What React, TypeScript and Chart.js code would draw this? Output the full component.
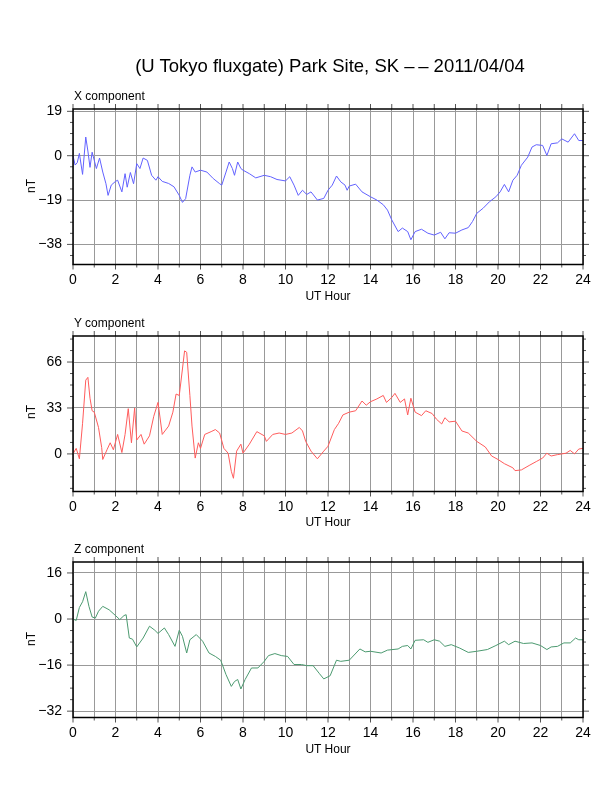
import React, { useEffect, useRef } from 'react';
import { Chart, registerables } from 'chart.js';

Chart.register(...registerables);

// X component (nT) vs UT hour
const xHours = [0, 0.1, 0.2, 0.3, 0.45, 0.6, 0.7, 0.8, 0.9, 1.0, 1.1, 1.25, 1.4, 1.55, 1.65, 1.8, 2.0, 2.1, 2.3, 2.45, 2.55, 2.7, 2.85, 3.0, 3.15, 3.3, 3.5, 3.7, 3.9, 4.0, 4.2, 4.5, 4.75, 5.0, 5.15, 5.3, 5.5, 5.6, 5.75, 6.0, 6.3, 6.6, 6.9, 7.0, 7.2, 7.35, 7.5, 7.6, 7.75, 7.9, 8.0, 8.3, 8.6, 9.0, 9.3, 9.6, 10.0, 10.2, 10.4, 10.6, 10.8, 11.0, 11.2, 11.5, 11.8, 12.0, 12.2, 12.4, 12.6, 12.8, 12.9, 13.0, 13.3, 13.6, 14.0, 14.3, 14.6, 14.8, 15.0, 15.3, 15.5, 15.75, 15.9, 16.1, 16.4, 16.7, 17.0, 17.3, 17.5, 17.7, 18.0, 18.3, 18.6, 18.8, 19.0, 19.3, 19.6, 19.9, 20.1, 20.3, 20.5, 20.7, 20.9, 21.1, 21.4, 21.6, 21.8, 22.1, 22.3, 22.5, 22.8, 23.0, 23.3, 23.6, 23.8, 24];
const xValues = [0, -4, -3, 1, -8, 8, 2, -5, 1.5, -2, -5.5, -1, -7, -12, -17, -12.6, -11, -10.5, -15.5, -7.7, -13.5, -7.2, -12, -3.4, -5.5, -1, -2, -8.4, -10.5, -9, -11, -11.9, -13.3, -17, -20, -18.4, -8.4, -4.8, -7, -6.2, -7, -9.8, -12, -12.6, -7, -2.7, -5.5, -8.4, -2.7, -5.5, -6.2, -7.7, -9.5, -8.4, -9, -10.2, -10.8, -9, -12.6, -17, -14.8, -16.6, -15.5, -19, -18.3, -14.8, -12.6, -8.7, -11.2, -12.6, -14.8, -13, -12.2, -15.5, -17.6, -19, -21, -23.3, -27.5, -32.5, -31, -32.5, -36, -32.5, -31.5, -33.2, -34, -32.8, -35.6, -33, -33.2, -31.8, -30.8, -28.2, -24.7, -22.5, -19.7, -17.6, -15.5, -12.3, -15.5, -10.5, -8.4, -4.1, -0.6, 3.7, 4.7, 4.4, 0.1, 5.1, 5.5, 7.2, 5.8, 9.4, 6.5, 6.5];

// Y component
const yHours = [0, 0.15, 0.3, 0.45, 0.6, 0.7, 0.8, 0.9, 1.0, 1.2, 1.35, 1.4, 1.6, 1.75, 1.9, 2.1, 2.3, 2.45, 2.6, 2.75, 2.9, 3.0, 3.2, 3.35, 3.6, 3.8, 4.0, 4.2, 4.5, 4.7, 4.85, 5.0, 5.15, 5.25, 5.35, 5.5, 5.6, 5.75, 5.9, 6.0, 6.2, 6.5, 6.7, 6.9, 7.1, 7.3, 7.45, 7.55, 7.7, 7.9, 8.0, 8.3, 8.65, 9.0, 9.1, 9.4, 9.7, 10.0, 10.3, 10.65, 10.8, 10.95, 11.2, 11.5, 11.8, 12.0, 12.3, 12.5, 12.7, 13.0, 13.3, 13.6, 13.8, 14.0, 14.3, 14.6, 14.75, 15.0, 15.15, 15.4, 15.6, 15.75, 15.9, 16.1, 16.4, 16.6, 16.9, 17.1, 17.35, 17.5, 17.7, 18.0, 18.3, 18.6, 19.0, 19.4, 19.7, 20.0, 20.3, 20.7, 20.8, 21.1, 21.5, 21.8, 22.1, 22.3, 22.5, 22.8, 23.2, 23.4, 23.6, 23.8, 24];
const yValues = [0, 4, -3.5, 22, 53, 55, 40, 31, 30, 19, 4.5, -4, 3, 8, 3, 14, 1, 14, 32.5, 8, 33, 10, 14, 7, 13, 27, 37, 14, 20, 30, 43, 42, 61, 74, 73, 42, 20, -3, 8, 4, 14, 16, 17.5, 15, 4, 0.5, -12.5, -17.5, 2, 7, 0.5, 7, 16, 13, 9, 14, 15, 14, 15, 19, 16.5, 9, 2, -3.5, 2, 5.5, 17.5, 22, 28, 30, 31, 38, 35, 37.5, 39.5, 42, 37, 40.5, 43.5, 37, 39.5, 28, 40, 30, 27.5, 31, 29, 25, 21.5, 26, 23, 23.5, 16.5, 15, 9, 5, -1.5, -4, -7, -10, -12, -11.5, -8, -5.5, -3, 0.5, -1.5, -0.5, 0.5, 2.5, 0, 3.5, 4];

// Z component
const zHours = [0, 0.15, 0.3, 0.45, 0.6, 0.75, 0.9, 1.05, 1.2, 1.4, 1.7, 2.0, 2.2, 2.4, 2.5, 2.65, 2.8, 3.0, 3.3, 3.6, 3.85, 4.0, 4.3, 4.5, 4.8, 5.0, 5.15, 5.35, 5.5, 5.8, 6.1, 6.4, 6.7, 6.95, 7.2, 7.45, 7.6, 7.75, 7.9, 8.1, 8.4, 8.7, 9.0, 9.2, 9.5, 9.8, 10.1, 10.4, 10.75, 11.0, 11.3, 11.6, 11.8, 12.1, 12.4, 12.6, 13.0, 13.5, 13.75, 14.0, 14.5, 14.8, 15.3, 15.5, 15.75, 15.9, 16.1, 16.5, 16.7, 17.0, 17.25, 17.5, 17.8, 18.2, 18.6, 19.0, 19.5, 19.9, 20.3, 20.5, 20.8, 21.2, 21.6, 22.0, 22.3, 22.5, 22.8, 23.1, 23.4, 23.65, 23.8, 24];
const zValues = [0, -0.5, 4, 6, 9.5, 4.4, 0.7, 0.3, 2.7, 4.4, 3.2, 1.2, -0.2, 1.2, 1.5, -6.6, -7, -9.7, -6.6, -2.5, -3.9, -5, -3.1, -5.4, -9.5, -3.9, -6, -11.8, -7.2, -5.4, -7.7, -11.8, -13, -14.3, -19.3, -23.4, -21.7, -21, -24.3, -21, -17, -17, -14.7, -12.7, -12, -12.7, -13, -15.8, -15.8, -16.2, -16.2, -19, -20.8, -19.7, -14.3, -14.7, -14.3, -10.4, -11.4, -11.2, -11.8, -10.8, -10.4, -9.5, -9.2, -10.4, -7.4, -7.2, -8.1, -7.2, -7.7, -9.5, -8.9, -10.1, -11.6, -11.2, -10.6, -9.2, -7.7, -8.9, -7.7, -8.5, -8.3, -9.2, -10.6, -9.7, -9.5, -8.3, -8.3, -6.6, -7.2, -7.2];

const xTicks = [-38, -19, 0, 19];
const yTicks = [0, 33, 66];
const zTicks = [-32, -16, 0, 16];
const hourTicks = [0, 2, 4, 6, 8, 10, 12, 14, 16, 18, 20, 22, 24];

const FONT = '"Liberation Sans", Arial, sans-serif';
const AREA_H = 155.5;
const PAD_TOP = 20;
const CANVAS_H = 205;

const framePlugin = {
  id: 'frame',
  afterDraw(chart: any, _args: any, opts: any) {
    const { ctx, chartArea: a, scales } = chart;
    const ys = scales.y;
    const xs = scales.x;
    ctx.save();
    ctx.strokeStyle = '#555';
    ctx.lineWidth = 1;
    // hour ticks on top and bottom
    for (let h = 0; h <= 24; h++) {
      const px = xs.getPixelForValue(h);
      ctx.beginPath();
      ctx.moveTo(px, a.top);
      ctx.lineTo(px, a.top - 5);
      ctx.moveTo(px, a.bottom);
      ctx.lineTo(px, a.bottom + (h % 2 === 0 ? 5 : 3));
      ctx.stroke();
    }
    // minor/major ticks left and right
    const step = opts.step / 4;
    for (let v = Math.ceil(ys.min / step) * step; v <= ys.max; v += step) {
      const py = ys.getPixelForValue(v);
      const major = Math.abs(v / opts.step - Math.round(v / opts.step)) < 1e-6;
      const len = major ? 6 : 3;
      ctx.beginPath();
      ctx.moveTo(a.left, py);
      ctx.lineTo(a.left - len, py);
      ctx.moveTo(a.right, py);
      ctx.lineTo(a.right + len, py);
      ctx.stroke();
    }
    ctx.strokeStyle = '#000';
    ctx.lineWidth = 1.5;
    ctx.strokeRect(a.left, a.top, a.right - a.left, a.bottom - a.top);
    ctx.restore();
  },
};

type PanelProps = {
  top: number;
  label: string;
  hours: number[];
  values: number[];
  ticks: number[];
  step: number;
  min: number;
  max: number;
  color: string;
};

const Panel = ({ top, label, hours, values, ticks, step, min, max, color }: PanelProps) => {
  const ref = useRef<HTMLCanvasElement>(null);
  useEffect(() => {
    if (!ref.current) return;
    const chart = new Chart(ref.current, {
      type: 'line',
      data: {
        datasets: [{
          data: hours.map((h, i) => ({ x: h, y: values[i] })),
          borderColor: color,
          borderWidth: 1,
          pointRadius: 0,
          tension: 0,
        }],
      },
      options: {
        animation: false,
        responsive: false,
        events: [],
        layout: { padding: { top: PAD_TOP, right: 29, left: 0, bottom: 0 } },
        plugins: { legend: { display: false }, tooltip: { enabled: false }, frame: { step } } as any,
        scales: {
          x: {
            type: 'linear',
            min: 0,
            max: 24,
            afterBuildTicks: (s: any) => { s.ticks = Array.from({ length: 25 }, (_, i) => ({ value: i })); },
            afterFit: (s: any) => { s.height = CANVAS_H - PAD_TOP - AREA_H; },
            ticks: {
              autoSkip: false,
              maxRotation: 0,
              padding: 7,
              color: '#000',
              font: { family: FONT, size: 14 },
              callback: (v: any) => (hourTicks.includes(v) ? String(v) : ''),
            },
            grid: { color: '#999', lineWidth: 1, drawTicks: false },
            border: { display: false },
          },
          y: {
            type: 'linear',
            min,
            max,
            afterBuildTicks: (s: any) => { s.ticks = ticks.map((v) => ({ value: v })); },
            afterFit: (s: any) => { s.width = 73; },
            ticks: {
              padding: 11,
              color: '#000',
              font: { family: FONT, size: 14 },
              callback: (v: any) => (v < 0 ? '\u2212' + Math.abs(v) : String(v)),
            },
            grid: { color: '#999', lineWidth: 1, drawTicks: false },
            border: { display: false },
          },
        },
      },
      plugins: [framePlugin],
    });
    return () => chart.destroy();
  }, []);

  return (
    <>
      <canvas ref={ref} width={612} height={CANVAS_H}
        style={{ position: 'absolute', left: 0, top: top - PAD_TOP, width: 612, height: CANVAS_H }} />
      <div style={{ position: 'absolute', left: 74, top: top - 20, fontSize: 12, fontFamily: FONT }}>{label}</div>
      <div style={{ position: 'absolute', left: 24, top: top + AREA_H / 2 - 8, fontSize: 12, fontFamily: FONT,
        transform: 'rotate(-90deg)', transformOrigin: 'center' }}>nT</div>
      <div style={{ position: 'absolute', left: 0, width: 656, textAlign: 'center', top: top + AREA_H + 24,
        fontSize: 12, fontFamily: FONT }}>UT Hour</div>
    </>
  );
};

export default function App() {
  return (
    <div style={{ position: 'fixed', left: 0, top: 0, width: 612, height: 792, background: '#fff' }}>
      <div style={{ position: 'absolute', left: 0, width: 660, textAlign: 'center', top: 55, fontSize: 18.5, fontFamily: FONT }}>
        (U Tokyo fluxgate) Park Site, SK {'\u2013\u2009\u2013'} 2011/04/04
      </div>
      <Panel top={109} label="X component" hours={xHours} values={xValues} ticks={xTicks} step={19}
        min={-46.6} max={20} color="#6262ff" />
      <Panel top={335.7} label="Y component" hours={yHours} values={yValues} ticks={yTicks} step={33}
        min={-27} max={84.7} color="#ff5c5c" />
      <Panel top={562.3} label="Z component" hours={zHours} values={zValues} ticks={zTicks} step={16}
        min={-34.2} max={19.8} color="#4c9a70" />
    </div>
  );
}
